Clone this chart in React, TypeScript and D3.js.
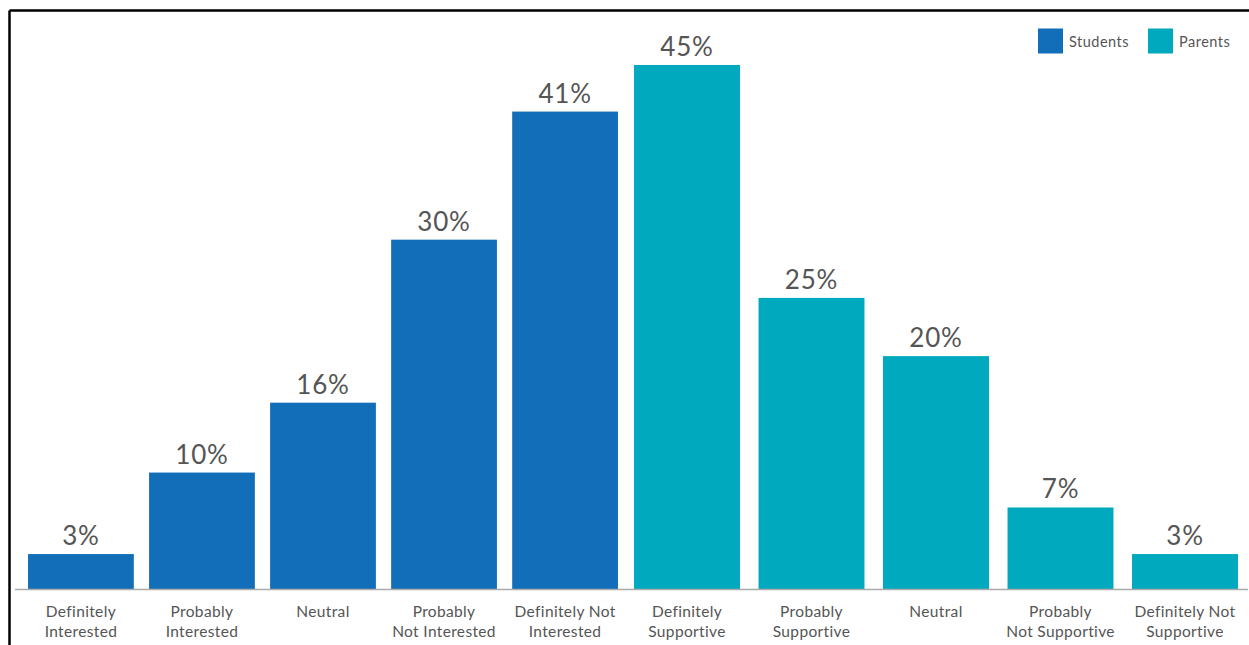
import React from "react";
import * as d3 from "d3";

const studentCategories = [
  ["Definitely", "Interested"],
  ["Probably", "Interested"],
  ["Neutral"],
  ["Probably", "Not Interested"],
  ["Definitely Not", "Interested"],
];
const studentValues = [3, 10, 16, 30, 41];

const parentCategories = [
  ["Definitely", "Supportive"],
  ["Probably", "Supportive"],
  ["Neutral"],
  ["Probably", "Not Supportive"],
  ["Definitely Not", "Supportive"],
];
const parentValues = [45, 25, 20, 7, 3];

const seriesNames = ["Students", "Parents"];
const seriesColors = ["#136EB9", "#00A9BD"];

const W = 1249;
const H = 645;
const FONT = "Lato, 'Open Sans', sans-serif";
const TEXT = "#555";

export default function App() {
  const y = d3.scaleLinear().domain([0, 45]).range([589, 65]);
  const xS = d3
    .scaleBand<number>()
    .domain(d3.range(studentValues.length))
    .range([20.4, 625.6])
    .paddingInner(0.126)
    .paddingOuter(0.063);
  const xP = d3
    .scaleBand<number>()
    .domain(d3.range(parentValues.length))
    .range([624.75, 1247.25])
    .paddingInner(0.149)
    .paddingOuter(0.0745);

  const groups = [
    { x: xS, values: studentValues, cats: studentCategories, color: seriesColors[0] },
    { x: xP, values: parentValues, cats: parentCategories, color: seriesColors[1] },
  ];

  return (
    <svg
      width={W}
      height={H}
      style={{ position: "absolute", left: 0, top: 0, background: "#fff" }}
    >
      <rect x={0} y={0} width={W} height={H} fill="#fff" />
      {/* frame */}
      <line x1={9.5} y1={10.5} x2={W} y2={10.5} stroke="#000" strokeWidth={2.5} />
      <line x1={9.5} y1={10.5} x2={9.5} y2={H} stroke="#000" strokeWidth={2.5} />

      {groups.map((g, gi) =>
        g.values.map((v, i) => {
          const x0 = g.x(i)!;
          const bw = g.x.bandwidth();
          const cx = x0 + bw / 2;
          return (
            <g key={`${gi}-${i}`}>
              <rect x={x0} y={y(v)} width={bw} height={y(0) - y(v)} fill={g.color} />
              <text
                x={cx}
                y={y(v) - 9}
                textAnchor="middle"
                fontFamily={FONT}
                fontSize={26}
                letterSpacing={0.8}
                fill={TEXT}
              >
                {v}%
              </text>
              {g.cats[i].map((line, li) => (
                <text
                  key={li}
                  x={cx}
                  y={617 + li * 20}
                  textAnchor="middle"
                  fontFamily={FONT}
                  fontSize={15.5}
                  letterSpacing={0.35}
                  fill={TEXT}
                >
                  {line}
                </text>
              ))}
            </g>
          );
        })
      )}

      {/* axis line */}
      <line x1={15} y1={589.5} x2={1248} y2={589.5} stroke="#aaa" strokeWidth={1.5} />

      {/* legend */}
      {seriesNames.map((name, i) => {
        const lx = [1038, 1148][i];
        return (
          <g key={name}>
            <rect x={lx} y={28.5} width={25} height={25} fill={seriesColors[i]} />
            <text
              x={lx + 31}
              y={47}
              fontFamily={FONT}
              fontSize={14.5}
              letterSpacing={0.5}
              fill={TEXT}
            >
              {name}
            </text>
          </g>
        );
      })}
    </svg>
  );
}
